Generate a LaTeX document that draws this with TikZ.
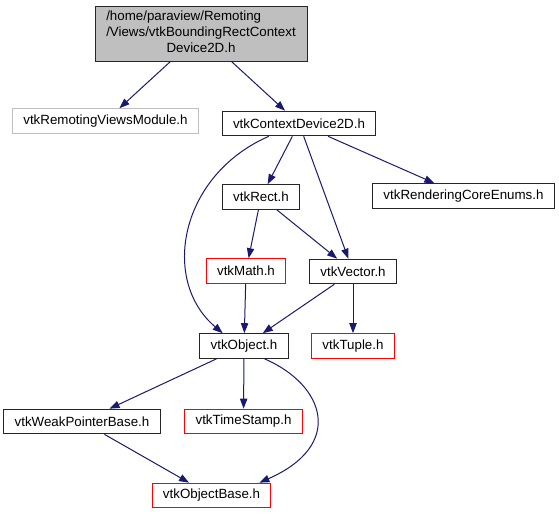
\documentclass[tikz,border=0pt]{standalone}
\usepackage{fontspec}
\setmainfont{Liberation Sans}
\usepackage{tikz}
\usepackage{xcolor}
\usetikzlibrary{arrows.meta}
\definecolor{edgeblue}{HTML}{191970}
\definecolor{rootgray}{HTML}{BFBFBF}
\tikzstyle{header} = [rectangle, 
minimum height=18.5pt, 
inner xsep=8.2pt, 
inner ysep=2pt, 
line width=0.75pt, 
font=\fontsize{10}{12}\selectfont, 
draw=black!85]
\tikzstyle{nodoc} = [header, draw=red]
\tikzstyle{external} = [header, draw=rootgray]
\tikzstyle{root} = [header, fill=rootgray, 
minimum width=159pt, 
minimum height=41.25pt]
\tikzstyle{arrow} = [line width=0.75pt, draw=edgeblue, 
-{Triangle[length=7.5pt, width=5.5pt, fill=edgeblue]}]

\begin{document}
\begin{tikzpicture}[x=0.75pt, y=-0.75pt]
        \useasboundingbox (0,0) rectangle (559,515);
        % Nodos (coordenadas en px de la figura)
        \node (root) [root] at (201,33.5) {\begin{tabular}{@{}l@{}}/home/paraview/Remoting\\/Views/vtkBoundingRectContext\\\multicolumn{1}{@{}c@{}}{Device2D.h}\end{tabular}};
        \node (remoting) [external] at (105.5,121) {vtkRemotingViewsModule.h};
        \node (context) [header] at (299,123.5) {vtkContextDevice2D.h};
        \node (rect) [header] at (261,197) {vtkRect.h};
        \node (enums) [header] at (463.5,196) {vtkRenderingCoreEnums.h};
        \node (math) [nodoc] at (246,271) {vtkMath.h};
        \node (vector) [header] at (353,271.5) {vtkVector.h};
        \node (object) [header] at (244,346) {vtkObject.h};
        \node (tuple) [nodoc] at (353,346) {vtkTuple.h};
        \node (weak) [header] at (82,421.5) {vtkWeakPointerBase.h};
        \node (timestamp) [nodoc] at (243.5,421.5) {vtkTimeStamp.h};
        \node (objectbase) [nodoc] at (211.5,495.5) {vtkObjectBase.h};
        
        % Conexiones
        \draw [arrow] (root) -- (remoting);
        \draw [arrow] (root) -- (context);
        \draw [arrow] (context.203) .. controls (180,175) and (160,280) .. (object.149);
        \draw [arrow] (context) -- (rect);
        \draw [arrow] (context) -- (vector);
        \draw [arrow] (context) -- (enums);
        \draw [arrow] (rect) -- (math);
        \draw [arrow] (rect) -- (vector);
        \draw [arrow] (math) -- (object);
        \draw [arrow] (vector) -- (object);
        \draw [arrow] (vector) -- (tuple);
        \draw [arrow] (object) -- (weak);
        \draw [arrow] (object) -- (timestamp);
        \draw [arrow] (object.328) .. controls (325,385) and (345,445) .. (objectbase.15);
        \draw [arrow] (weak) -- (objectbase);

    \end{tikzpicture}
\end{document}
